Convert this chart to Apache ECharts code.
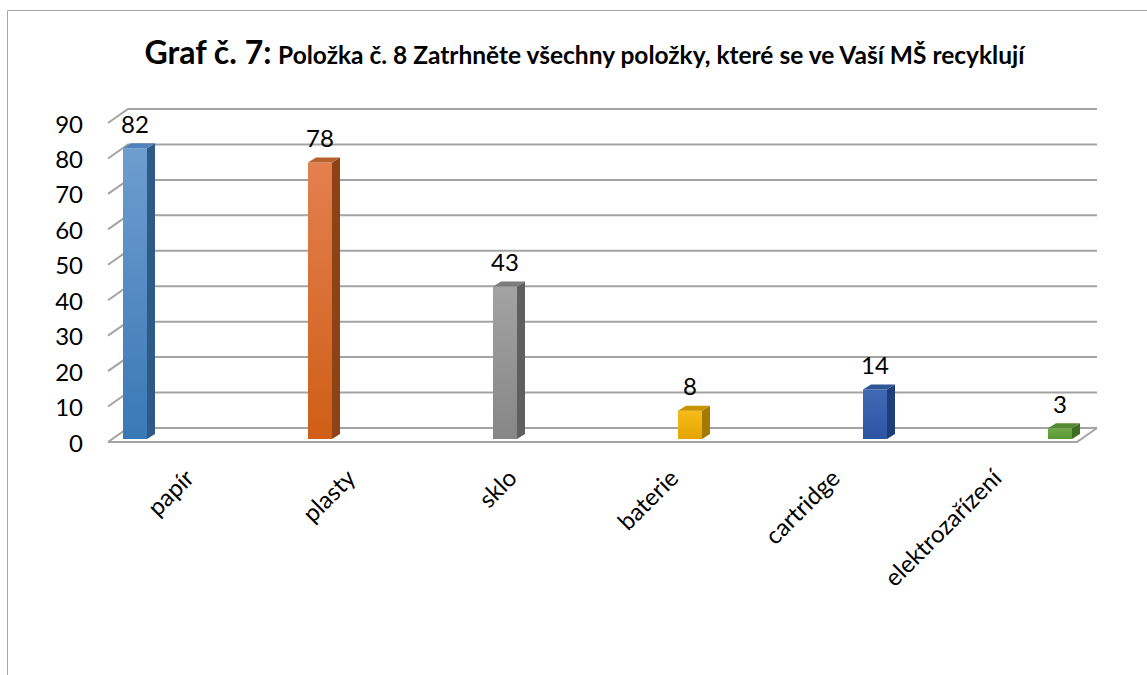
<!DOCTYPE html>
<html><head><meta charset="utf-8">
<script src="https://cdn.jsdelivr.net/npm/echarts@6/dist/echarts.min.js"></script>
<style>html,body{margin:0;padding:0;background:#fff}#c{width:1147px;height:675px}</style>
</head><body><div id="c"></div>
<script>
// ---- data ----
const categories = ['papír', 'plasty', 'sklo', 'baterie', 'cartridge', 'elektrozařízení'];
const values = [82, 78, 43, 8, 14, 3];
const yTicks = [0, 10, 20, 30, 40, 50, 60, 70, 80, 90];
const titleMain = 'Graf č. 7:';
const titleSub = 'Položka č. 8 Zatrhněte všechny položky, které se ve Vaší MŠ recyklují';

// ---- styles ----
const palette = [
  { hi: '#6e9dcf', lo: '#3a78b5', side: '#2e5a87', top: '#5182b8' },
  { hi: '#e3804f', lo: '#cf5e16', side: '#8e4216', top: '#b8602c' },
  { hi: '#a3a3a3', lo: '#868686', side: '#5f5f5f', top: '#7c7c7c' },
  { hi: '#f7bc1a', lo: '#e5a500', side: '#a57900', top: '#c89300' },
  { hi: '#4069b5', lo: '#2d54a3', side: '#1f3d78', top: '#2f5597' },
  { hi: '#6eaa45', lo: '#5a9632', side: '#3e6d22', top: '#548a32' }
];
const FONT = 'Lato, "Open Sans", sans-serif';
const WALL_DX = 20, WALL_DY = 14;
const BAR_W = 24, BAR_DX = 8, BAR_DY = 5;
const GRID_COLOR = '#a3a3a3';

const chart = echarts.init(document.getElementById('c'), null, { renderer: 'svg' });
chart.setOption({
  animation: false,
  backgroundColor: '#ffffff',
  graphic: [{
    type: 'rect', silent: true, z: -10,
    shape: { x: 7.5, y: 10.5, width: 1300, height: 800 },
    style: { fill: 'none', stroke: '#a6a6a6', lineWidth: 1 }
  }],
  title: {
    left: 580, top: 30, textAlign: 'center',
    text: '{a|' + titleMain + '} {b|' + titleSub + '}',
    textStyle: {
      rich: {
        a: { fontFamily: FONT, fontWeight: 'bold', fontSize: 32, color: '#000', lineHeight: 32, verticalAlign: 'bottom' },
        b: { fontFamily: FONT, fontWeight: 'bold', fontSize: 24.5, color: '#000', lineHeight: 24.5, verticalAlign: 'bottom' }
      }
    }
  },
  grid: [
    { left: 108, right: 70, top: 123, bottom: 233 },
    { left: 135, right: 87, top: 120, bottom: 236 }
  ],
  xAxis: [
    {
      type: 'category', gridIndex: 0, data: categories, boundaryGap: true,
      axisLine: { show: false }, axisTick: { show: false },
      axisLabel: { rotate: 45, fontSize: 24, fontFamily: FONT, color: '#000', margin: 31, interval: 0 }
    },
    { type: 'category', gridIndex: 1, data: categories, boundaryGap: false, show: false }
  ],
  yAxis: [
    {
      type: 'value', gridIndex: 0, min: 0, max: 90, interval: 10,
      axisLine: { show: false }, axisTick: { show: false }, splitLine: { show: false },
      axisLabel: { fontSize: 24, fontFamily: FONT, color: '#000', margin: 25 }
    },
    { type: 'value', gridIndex: 1, min: 0, max: 90, interval: 10, show: false, splitLine: { show: false } }
  ],
  series: [
    {
      type: 'custom', xAxisIndex: 0, yAxisIndex: 0, z: 1, silent: true,
      data: yTicks.map(v => [0, v]),
      encode: { x: 0, y: 1 },
      renderItem: function (params, api) {
        const cs = params.coordSys;
        const v = api.value(1);
        const y = api.coord([0, v])[1];
        const fl = [cs.x, y], bl = [cs.x + WALL_DX, y - WALL_DY];
        const br = [cs.x + cs.width + WALL_DX, y - WALL_DY], fr = [cs.x + cs.width, y];
        const children = [{
          type: 'polyline', shape: { points: [fl, bl, br] },
          style: { stroke: GRID_COLOR, lineWidth: 2, fill: null }
        }];
        if (v === 0) {
          children.push({
            type: 'polyline', shape: { points: [br, fr, fl] },
            style: { stroke: GRID_COLOR, lineWidth: 2, fill: null }
          });
        }
        return { type: 'group', children: children };
      }
    },
    {
      type: 'custom', xAxisIndex: 1, yAxisIndex: 1, z: 5, silent: true,
      data: values.map((v, i) => [i, v]),
      encode: { x: 0, y: 1 },
      renderItem: function (params, api) {
        const i = api.value(0), v = api.value(1);
        const top = api.coord([i, v]), base = api.coord([i, 0]);
        const x0 = top[0] - BAR_W / 2, x1 = top[0] + BAR_W / 2;
        const yt = top[1], yb = base[1];
        const c = palette[i % palette.length];
        return {
          type: 'group',
          children: [
            {
              type: 'rect', shape: { x: x0, y: yt, width: BAR_W, height: yb - yt },
              style: { fill: new echarts.graphic.LinearGradient(0, 0, 0, 1, [
                { offset: 0, color: c.hi }, { offset: 1, color: c.lo }]) }
            },
            {
              type: 'polygon',
              shape: { points: [[x1, yt], [x1 + BAR_DX, yt - BAR_DY], [x1 + BAR_DX, yb - BAR_DY], [x1, yb]] },
              style: { fill: c.side }
            },
            {
              type: 'polygon',
              shape: { points: [[x0, yt], [x0 + BAR_DX, yt - BAR_DY], [x1 + BAR_DX, yt - BAR_DY], [x1, yt]] },
              style: { fill: c.top }
            },
            {
              type: 'text',
              style: { text: String(v), x: top[0], y: yt - 25, align: 'center', verticalAlign: 'middle',
                fontSize: 24, fontFamily: FONT, fill: '#000' }
            }
          ]
        };
      }
    }
  ]
});
</script>
</body></html>
